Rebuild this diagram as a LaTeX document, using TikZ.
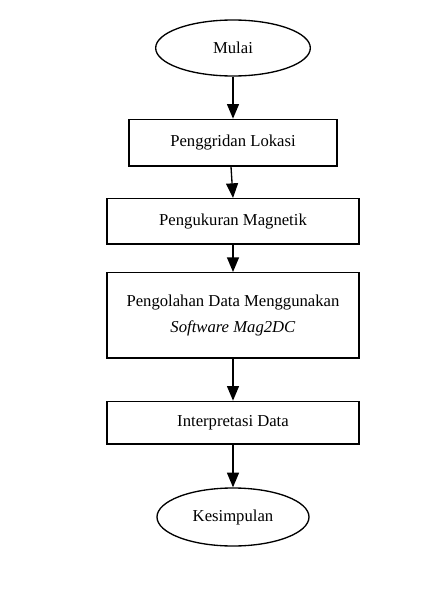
\documentclass[tikz,border=0pt]{standalone}
\usepackage{fontspec}
\setmainfont{Liberation Serif}
\usetikzlibrary{arrows.meta,positioning,shapes.geometric}

\begin{document}
\begin{tikzpicture}[node distance=25pt,
    >={Triangle[width=9pt,length=11pt]},
    every node/.style={font=\fontsize{12.5}{15}\selectfont},
    terminal/.style={draw, ellipse, line width=1pt, inner sep=0pt,
      minimum width=116pt, minimum height=42pt},
    proses/.style={draw, rectangle, line width=1pt, inner sep=0pt,
      minimum width=189pt, minimum height=33pt, align=center},
    alur/.style={->, line width=1pt}]
  \useasboundingbox (-174.75pt,36pt) rectangle (160.5pt,-411pt);

  \node[terminal] (mulai) {Mulai};
  \node[proses, minimum width=156pt, minimum height=35pt]
    (grid) [below=31.5pt of mulai] {Penggridan Lokasi};
  \node[proses, minimum height=34pt] (ukur) [below=23.5pt of grid]
    {Pengukuran Magnetik};
  \node[proses, minimum height=64pt] (olah) [below=20.5pt of ukur]
    {Pengolahan Data Menggunakan\\[4pt] \textit{Software Mag2DC}};
  \node[proses, minimum height=32pt] (tafsir) [below=31.5pt of olah]
    {Interpretasi Data};
  \node[terminal, minimum width=114pt, minimum height=43.5pt]
    (akhir) [below=32pt of tafsir] {Kesimpulan};

  \draw[alur] (mulai) -- (grid);
  \draw[alur] ([xshift=-1.5pt]grid.south) -- (ukur.north);
  \draw[alur] (ukur) -- (olah);
  \draw[alur] (olah) -- (tafsir);
  \draw[alur] (tafsir) -- (akhir);
\end{tikzpicture}
\end{document}
